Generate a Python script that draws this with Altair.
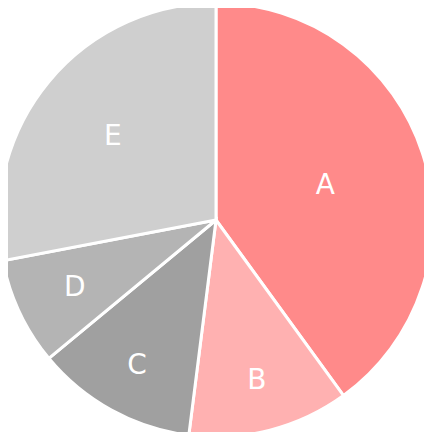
import altair as alt
import pandas as pd

categories = ["A", "B", "C", "D", "E"]
values = [40, 12, 12, 8, 28]
colors = ["#FF8A8A", "#FFB1B1", "#A0A0A0", "#B4B4B4", "#CFCFCF"]

df = pd.DataFrame({"category": categories, "value": values, "order": list(range(len(categories)))})
total = sum(values)

R = 217

base = alt.Chart(df).transform_window(
    end="sum(value)", sort=[alt.SortField("order")]
).transform_calculate(
    start="datum.end - datum.value",
    mid="datum.end - datum.value / 2",
    labelR="datum.category == 'A' ? 115 : datum.category == 'E' ? 134 : datum.category == 'D' ? 156 : 164",
)

theta_scale = alt.Scale(domain=[0, total], range=[0, 6.283185307179586])

pie = base.mark_arc(outerRadius=R, stroke="white", strokeWidth=3).encode(
    theta=alt.Theta("start:Q", scale=theta_scale, stack=None),
    theta2="end:Q",
    color=alt.Color("category:N", scale=alt.Scale(domain=categories, range=colors), legend=None),
)

labels = base.mark_text(
    font="DejaVu Sans", fontSize=28, fontWeight="normal", color="white", align="center", baseline="middle",
    radius=alt.ExprRef("datum.labelR"), dy=2,
).encode(
    theta=alt.Theta("mid:Q", scale=theta_scale, stack=None),
    text="category:N",
)

chart = (pie + labels).properties(
    width=416, height=424, padding=0,
    autosize=alt.AutoSizeParams(type="none"),
).configure_view(stroke=None)

chart.save("out.html", embed_options={"renderer": "svg", "actions": False})
